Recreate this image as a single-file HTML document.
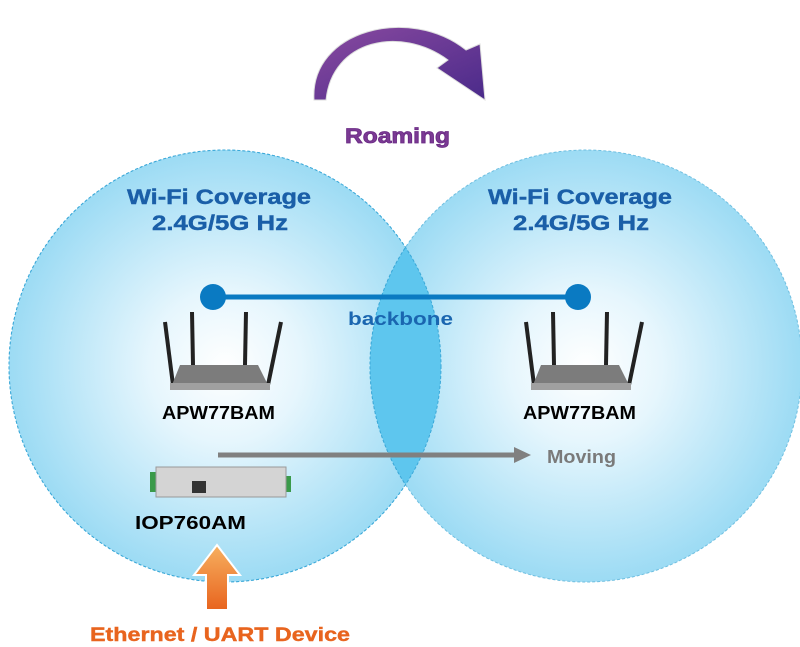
<!DOCTYPE html>
<html><head><style>
body{margin:0;background:#fff;}
svg{display:block;}
text{font-family:"Liberation Sans",sans-serif;font-weight:700;}
</style></head><body>
<svg width="800" height="647" viewBox="0 0 800 647">
<defs>
<radialGradient id="cg" cx="50%" cy="50%" r="50%">
<stop offset="0" stop-color="#ffffff"/>
<stop offset="0.35" stop-color="#e6f6fd"/>
<stop offset="1" stop-color="#9cdbf4"/>
</radialGradient>
<clipPath id="lc"><circle cx="225" cy="366" r="216"/></clipPath>
<linearGradient id="pg" x1="0" y1="0" x2="1" y2="1">
<stop offset="0" stop-color="#8a4aa0"/><stop offset="1" stop-color="#4a2a8a"/>
</linearGradient>
<linearGradient id="og" x1="0" y1="0" x2="0" y2="1">
<stop offset="0" stop-color="#f7b060"/><stop offset="1" stop-color="#e8641e"/>
</linearGradient>
</defs>
<circle cx="225" cy="366" r="216" fill="url(#cg)" stroke="#6fbfe0" stroke-dasharray="3,2"/>
<circle cx="586" cy="366" r="216" fill="url(#cg)" stroke="#6fbfe0" stroke-dasharray="3,2"/>
<circle cx="586" cy="366" r="216" fill="#5ec6ee" clip-path="url(#lc)" stroke="#3aa8d8" stroke-dasharray="3,2"/>
<circle cx="225" cy="366" r="216" fill="none" stroke="#3aa8d8" stroke-dasharray="3,2"/>
<path d="M314,100 C310,30 410,5 466,50 L480,44 L485,100 L437,68 L448,60 C400,25 332,40 326,100 Z" fill="url(#pg)" stroke="#ddd" stroke-width="1"/>
<text x="345" y="143" font-size="21" fill="#7b3a94" stroke="#6a2a84" stroke-width="0.8" textLength="105" lengthAdjust="spacingAndGlyphs">Roaming</text>
<g font-size="21" fill="#1a5fa8" stroke="#1a5fa8" stroke-width="0.4">
<text x="127" y="204" textLength="184" lengthAdjust="spacingAndGlyphs">Wi-Fi Coverage</text>
<text x="152" y="230" textLength="136" lengthAdjust="spacingAndGlyphs">2.4G/5G Hz</text>
<text x="488" y="204" textLength="184" lengthAdjust="spacingAndGlyphs">Wi-Fi Coverage</text>
<text x="513" y="230" textLength="136" lengthAdjust="spacingAndGlyphs">2.4G/5G Hz</text>
</g>
<line x1="213" y1="297" x2="578" y2="297" stroke="#0a7ac2" stroke-width="5"/>
<circle cx="213" cy="297" r="13" fill="#0a7ac2"/><circle cx="578" cy="297" r="13" fill="#0a7ac2"/>
<text x="348" y="325" font-size="18" fill="#1a66b0" textLength="105" lengthAdjust="spacingAndGlyphs">backbone</text>
<g id="r">
<line x1="165" y1="322" x2="173" y2="385" stroke="#222" stroke-width="4"/>
<line x1="192" y1="312" x2="193" y2="365" stroke="#222" stroke-width="4"/>
<line x1="246" y1="312" x2="245" y2="365" stroke="#222" stroke-width="4"/>
<line x1="281" y1="322" x2="268" y2="385" stroke="#222" stroke-width="4"/>
<path d="M180,365 L258,365 L268,385 L172,385 Z" fill="#7c7c7c"/>
<rect x="170" y="383" width="100" height="7" fill="#a0a0a0"/>
</g>
<use href="#r" transform="translate(361,0)"/>
<text x="162" y="419" font-size="18" fill="#000" textLength="113" lengthAdjust="spacingAndGlyphs">APW77BAM</text>
<text x="523" y="419" font-size="18" fill="#000" textLength="113" lengthAdjust="spacingAndGlyphs">APW77BAM</text>
<line x1="218" y1="455" x2="516" y2="455" stroke="#808080" stroke-width="5"/>
<path d="M514,447 L531,455 L514,463 Z" fill="#808080"/>
<text x="547" y="463" font-size="18" fill="#7a7a7a" textLength="69" lengthAdjust="spacingAndGlyphs">Moving</text>
<rect x="150" y="472" width="8" height="20" fill="#3a9a4a"/>
<rect x="285" y="476" width="6" height="16" fill="#3a9a4a"/>
<rect x="156" y="467" width="130" height="30" fill="#d4d4d4" stroke="#999"/>
<rect x="192" y="481" width="14" height="12" fill="#333"/>
<text x="135" y="529" font-size="18" fill="#000" textLength="111" lengthAdjust="spacingAndGlyphs">IOP760AM</text>
<path d="M206,610 L206,575 L194,575 L217,545 L240,575 L228,575 L228,610 Z" fill="url(#og)" stroke="#fff" stroke-width="2"/>
<text x="90" y="641" font-size="19" fill="#e8641e" stroke="#e8641e" stroke-width="0.4" textLength="260" lengthAdjust="spacingAndGlyphs">Ethernet / UART Device</text>
</svg>
</body></html>
